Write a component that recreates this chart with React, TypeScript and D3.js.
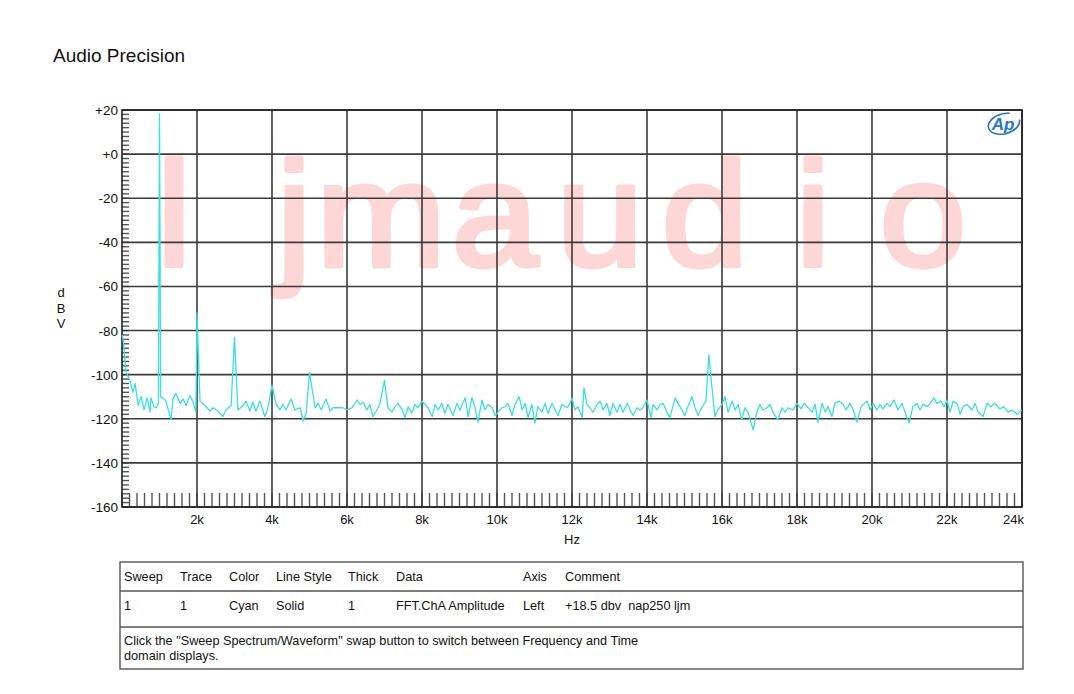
import React from "react";
import * as d3 from "d3";

// --- Data (frequency in kHz, level in dBV) ---
const FREQ_KHZ = [
  0.0, 0.03, 0.11, 0.21, 0.29, 0.35, 0.43, 0.51, 0.59, 0.67, 0.75, 0.77, 0.85, 0.91, 0.97, 1.0, 1.03,
  1.09, 1.17, 1.31, 1.36, 1.44, 1.55, 1.63, 1.71, 1.81, 1.89, 1.97, 2.0, 2.08, 2.21, 2.35, 2.43, 2.56,
  2.69, 2.77, 2.91, 3.0, 3.09, 3.23, 3.31, 3.41, 3.49, 3.57, 3.68, 3.81, 3.89, 4.0, 4.11, 4.21, 4.29,
  4.37, 4.51, 4.61, 4.75, 4.83, 4.91, 5.0, 5.15, 5.23, 5.31, 5.44, 5.55, 5.63, 5.76, 5.89, 6.0, 6.13,
  6.27, 6.35, 6.43, 6.53, 6.61, 6.69, 6.8, 6.88, 7.0, 7.09, 7.2, 7.28, 7.36, 7.47, 7.55, 7.63, 7.73,
  7.81, 7.89, 8.0, 8.08, 8.16, 8.27, 8.35, 8.43, 8.53, 8.61, 8.69, 8.83, 8.93, 9.01, 9.15, 9.23, 9.33,
  9.41, 9.49, 9.6, 9.68, 9.76, 9.87, 9.95, 10.03, 10.13, 10.21, 10.29, 10.4, 10.48, 10.59, 10.67, 10.75,
  10.83, 10.93, 11.01, 11.09, 11.2, 11.28, 11.36, 11.47, 11.55, 11.63, 11.73, 11.87, 11.95, 12.0, 12.08,
  12.16, 12.27, 12.32, 12.4, 12.48, 12.56, 12.67, 12.75, 12.83, 12.93, 13.01, 13.09, 13.2, 13.28, 13.36,
  13.47, 13.55, 13.63, 13.73, 13.81, 13.89, 14.0, 14.11, 14.16, 14.27, 14.35, 14.43, 14.53, 14.61, 14.75,
  14.83, 14.93, 15.01, 15.09, 15.2, 15.28, 15.36, 15.47, 15.57, 15.65, 15.73, 15.81, 15.89, 16.0, 16.08,
  16.16, 16.27, 16.35, 16.43, 16.53, 16.61, 16.69, 16.83, 16.93, 17.01, 17.09, 17.2, 17.28, 17.36, 17.49,
  17.6, 17.68, 17.76, 17.89, 18.0, 18.11, 18.19, 18.27, 18.4, 18.48, 18.56, 18.67, 18.75, 18.83, 18.93,
  19.01, 19.12, 19.23, 19.31, 19.41, 19.49, 19.6, 19.71, 19.76, 19.87, 19.95, 20.03, 20.13, 20.21, 20.29,
  20.4, 20.48, 20.59, 20.69, 20.8, 20.88, 20.99, 21.09, 21.2, 21.28, 21.36, 21.47, 21.55, 21.65, 21.73,
  21.84, 21.92, 22.0, 22.08, 22.16, 22.27, 22.35, 22.43, 22.53, 22.67, 22.75, 22.83, 22.96, 23.07, 23.17,
  23.28, 23.41, 23.52, 23.63, 23.73, 23.87, 24.0,
];
const LEVEL_DBV = [
  -82, -84, -99, -102.5, -108, -104, -114, -110, -116, -110.5, -117, -110.5, -114.5, -115, -113, 18.5, -110,
  -110.5, -112, -120.5, -111, -108.5, -113, -111, -114, -109.5, -112, -117, -72, -112, -114, -116.5, -115, -116.5,
  -119, -116, -114, -83, -116, -114, -112, -116.5, -112.5, -116.5, -112, -119, -115, -104.7, -113.5, -116, -113.5,
  -116, -111, -116, -115, -121, -117.5, -99, -115, -113, -116, -111, -116.5, -115, -115, -115, -116, -115,
  -111.5, -113.5, -112.5, -116, -113.5, -119, -116, -113, -102.5, -115, -117, -114.5, -113, -116, -119.5, -114.5, -117.5,
  -113.5, -115, -112, -113.5, -115, -119, -113.5, -116, -113, -117.5, -113.5, -118.5, -113, -116, -110.5, -119, -110.5,
  -114.5, -121.5, -111.5, -116, -113.5, -115, -118.5, -117, -115, -114.5, -113, -118.5, -113.5, -110, -116, -113,
  -119.5, -113.5, -122, -114.5, -117, -113, -117.5, -113, -116, -118.5, -113.5, -115, -113, -110.5, -116,
  -114.5, -119.5, -106, -113.5, -115, -117, -113.5, -112, -116, -113, -118.5, -113, -117, -113.5, -117,
  -113, -116, -118.5, -115, -116, -115, -111.5, -119.5, -113.5, -116, -113.5, -113, -117, -119.5, -110.5,
  -113, -116, -118.5, -114.5, -110, -115, -118.5, -114.5, -112, -91, -105.5, -119, -116, -113.5, -110,
  -117, -112, -116, -113.5, -120.5, -115, -117, -125, -117, -113.5, -116, -115, -113.5, -117, -120.5,
  -115, -117, -115, -116, -113, -115.5, -113, -114.5, -117, -113.5, -121.5, -113, -117, -114.5, -119,
  -113, -112, -113.5, -116, -113, -115.5, -121.5, -114.5, -113.5, -112, -116, -113, -116, -113.5, -115.5,
  -113, -114.5, -111.5, -116, -113, -117, -122, -114.5, -113, -116, -113.5, -114.5, -113, -110.5, -113,
  -112, -114.5, -111.5, -117, -112, -113, -118, -114.5, -113.5, -116, -113, -117, -119, -113, -114.5,
  -113, -115.5, -114.5, -117, -116, -118, -116,
];

const Y_TICKS = [20, 0, -20, -40, -60, -80, -100, -120, -140, -160];
const Y_LABELS = ["+20", "+0", "-20", "-40", "-60", "-80", "-100", "-120", "-140", "-160"];
const X_TICKS_KHZ = [2, 4, 6, 8, 10, 12, 14, 16, 18, 20, 22, 24];
const X_LABELS = ["2k", "4k", "6k", "8k", "10k", "12k", "14k", "16k", "18k", "20k", "22k", "24k"];

const LEGEND_HEADERS = ["Sweep", "Trace", "Color", "Line Style", "Thick", "Data", "Axis", "Comment"];
const LEGEND_ROW = ["1", "1", "Cyan", "Solid", "1", "FFT.ChA Amplitude", "Left", "+18.5 dbv  nap250 ljm"];
const NOTE_LINES = [
  'Click the "Sweep Spectrum/Waveform" swap button to switch between Frequency and Time',
  "domain displays.",
];
const WATERMARK = ["l", "j", "m", "a", "u", "d", "i", "o"];

// --- Layout ---
const W = 1074;
const H = 694;
const PLOT = { left: 122, right: 1022, top: 110, bottom: 507 };
const COL_X = [124, 180, 229, 276, 348, 396, 523, 565];
const WM_X = [174, 294, 381, 495, 600, 705, 813, 923];
const FONT = "Arial, 'Liberation Sans', sans-serif";

export default function App() {
  const x = d3.scaleLinear().domain([0, 24]).range([PLOT.left, PLOT.right]);
  const y = d3.scaleLinear().domain([-160, 20]).range([PLOT.bottom, PLOT.top]);

  const points = FREQ_KHZ.map((f, i) => [f, LEVEL_DBV[i]] as [number, number]);
  const line = d3
    .line<[number, number]>()
    .x((d) => x(d[0]))
    .y((d) => y(d[1]));

  const minorX = d3.range(0, 24.001, 0.2);
  const minorY = d3.range(-160, 20.001, 2);

  return (
    <svg
      width={W}
      height={H}
      style={{ position: "absolute", left: 0, top: 0, background: "#fff" }}
      fontFamily={FONT}
    >
      <rect x={0} y={0} width={W} height={H} fill="#fff" />

      <text x={53} y={62} fontSize={19} fill="#111">
        Audio Precision
      </text>

      {/* watermark behind the grid */}
      {WATERMARK.map((ch, i) => (
        <text
          key={i}
          transform={`translate(${WM_X[i]},266) scale(1.05,1)`}
          textAnchor="middle"
          fontSize={148}
          fill="#fdd6d6"
          stroke="#fdd6d6"
          strokeWidth={5}
          strokeLinejoin="round"
        >
          {ch}
        </text>
      ))}

      {/* minor ticks */}
      {minorX.map((f, i) => (
        <line
          key={"mx" + i}
          x1={x(f)}
          x2={x(f)}
          y1={PLOT.bottom - 14}
          y2={PLOT.bottom}
          stroke="#555"
          strokeWidth={1.4}
        />
      ))}
      {minorY.map((v, i) => (
        <line
          key={"my" + i}
          x1={PLOT.left}
          x2={PLOT.left + 7}
          y1={y(v)}
          y2={y(v)}
          stroke="#555"
          strokeWidth={1.4}
        />
      ))}

      {/* grid */}
      {X_TICKS_KHZ.map((f) => (
        <line
          key={"gx" + f}
          x1={x(f)}
          x2={x(f)}
          y1={PLOT.top}
          y2={PLOT.bottom}
          stroke="#3a3a3a"
          strokeWidth={1.6}
        />
      ))}
      {Y_TICKS.map((v) => (
        <line
          key={"gy" + v}
          x1={PLOT.left}
          x2={PLOT.right}
          y1={y(v)}
          y2={y(v)}
          stroke="#3a3a3a"
          strokeWidth={1.6}
        />
      ))}
      <rect
        x={PLOT.left}
        y={PLOT.top}
        width={PLOT.right - PLOT.left}
        height={PLOT.bottom - PLOT.top}
        fill="none"
        stroke="#222"
        strokeWidth={1.6}
      />

      {/* trace */}
      <path d={line(points) || ""} fill="none" stroke="#38e0e0" strokeWidth={1.3} strokeLinejoin="round" />

      {/* AP logo */}
      <g transform="translate(1003,124)">
        <ellipse cx={1} cy={0} rx={16} ry={10} fill="none" stroke="#2a76c6" strokeWidth={1.6} strokeDasharray="70 40" transform="rotate(-15)" />
        <text x={0} y={6} textAnchor="middle" fontSize={17} fontStyle="italic" fontWeight="bold" fill="#2a76c6">
          Ap
        </text>
      </g>

      {/* axis labels */}
      {Y_TICKS.map((v, i) => (
        <text key={"yl" + v} x={118} y={y(v) + 5} textAnchor="end" fontSize={13.5} fill="#111">
          {Y_LABELS[i]}
        </text>
      ))}
      {X_TICKS_KHZ.map((f, i) => (
        <text
          key={"xl" + f}
          x={i === X_TICKS_KHZ.length - 1 ? x(f) + 2 : x(f)}
          y={524}
          textAnchor={i === X_TICKS_KHZ.length - 1 ? "end" : "middle"}
          fontSize={13}
          fill="#111"
        >
          {X_LABELS[i]}
        </text>
      ))}
      {["d", "B", "V"].map((ch, i) => (
        <text key={ch} x={61} y={297 + i * 15.5} textAnchor="middle" fontSize={13} fill="#111">
          {ch}
        </text>
      ))}
      <text x={572} y={544} textAnchor="middle" fontSize={13} fill="#111">
        Hz
      </text>

      {/* legend table */}
      <rect x={120} y={562} width={903} height={107} fill="none" stroke="#555" strokeWidth={1.4} />
      <line x1={120} x2={1023} y1={591} y2={591} stroke="#555" strokeWidth={1.4} />
      <line x1={120} x2={1023} y1={627} y2={627} stroke="#555" strokeWidth={1.4} />
      {LEGEND_HEADERS.map((t, i) => (
        <text key={"h" + i} x={COL_X[i]} y={581} fontSize={12.7} fill="#111">
          {t}
        </text>
      ))}
      {LEGEND_ROW.map((t, i) => (
        <text key={"r" + i} x={COL_X[i]} y={610} fontSize={12.7} fill="#111" style={{ whiteSpace: "pre" }}>
          {t}
        </text>
      ))}
      {NOTE_LINES.map((t, i) => (
        <text key={"n" + i} x={124} y={645 + i * 15} fontSize={12.7} fill="#111">
          {t}
        </text>
      ))}
    </svg>
  );
}
